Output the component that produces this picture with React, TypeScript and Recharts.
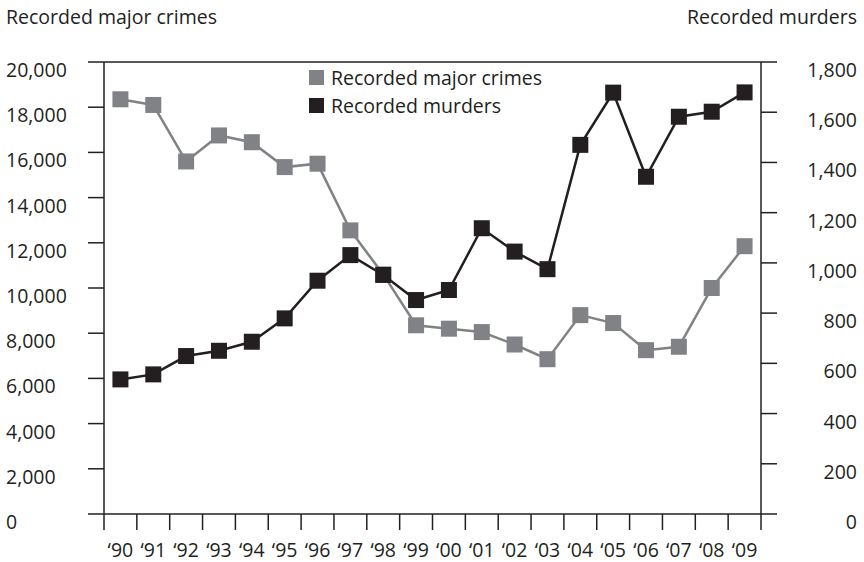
import React from 'react';
import { LineChart, Line, XAxis, YAxis, ReferenceLine, Legend } from 'recharts';

const YEARS = ['‘90', '‘91', '‘92', '‘93', '‘94', '‘95', '‘96', '‘97', '‘98', '‘99', '‘00', '‘01', '‘02', '‘03', '‘04', '‘05', '‘06', '‘07', '‘08', '‘09'];
const MAJOR_CRIMES = [18350, 18100, 15600, 16750, 16450, 15350, 15500, 12550, 10600, 8350, 8200, 8050, 7500, 6850, 8800, 8450, 7250, 7400, 10000, 11850];
const MURDERS = [536, 556, 629, 650, 686, 779, 929, 1031, 952, 852, 892, 1138, 1045, 975, 1470, 1678, 1343, 1582, 1602, 1679];
const LEFT_TICKS = [0, 2000, 4000, 6000, 8000, 10000, 12000, 14000, 16000, 18000, 20000];
const RIGHT_TICKS = [0, 200, 400, 600, 800, 1000, 1200, 1400, 1600, 1800];

const GREY = '#808285';
const BLACK = '#231f20';
const FONT = '"Open Sans", Lato, sans-serif';
const FS = 19.5;

const data = YEARS.map((year, i) => ({ year, crimes: MAJOR_CRIMES[i], murders: MURDERS[i] }));

const fmt = (v: number) => v.toLocaleString('en-US');

// square markers
const squareDot = (color: string) => (props: any) => {
  const { cx, cy, index } = props;
  if (cx == null || cy == null) return null;
  return <rect key={`sq-${color}-${index}`} x={cx - 8} y={cy - 8} width={16} height={16} fill={color} />;
};

const XTick = (props: any) => {
  const { x, y, payload, index, visibleTicksCount } = props;
  const off = payload && payload.offset ? payload.offset : 16.4;
  const top = y - 16;
  return (
    <g>
      <line x1={x - off} x2={x - off} y1={top} y2={y} stroke={BLACK} strokeWidth={1.5} />
      {index === visibleTicksCount - 1 && (
        <line x1={x + off} x2={x + off} y1={top} y2={y} stroke={BLACK} strokeWidth={1.5} />
      )}
      <text x={x} y={y + 27} textAnchor="middle" fontSize={FS} fontFamily={FONT} fill={BLACK}>
        {payload.value}
      </text>
    </g>
  );
};

const LeftTick = (props: any) => {
  const { x, y, payload } = props;
  return (
    <text x={x - 82} y={y + 15} textAnchor="start" fontSize={FS} fontFamily={FONT} fill={BLACK}>
      {fmt(payload.value)}
    </text>
  );
};

const RightTick = (props: any) => {
  const { x, y, payload } = props;
  return (
    <text x={x + 80} y={y + 15} textAnchor="end" fontSize={FS} fontFamily={FONT} fill={BLACK}>
      {fmt(payload.value)}
    </text>
  );
};

const LegendBox = (props: any) => {
  const { payload } = props;
  return (
    <div style={{ fontFamily: FONT, fontSize: FS, color: BLACK }}>
      {(payload || []).map((p: any) => (
        <div key={p.value} style={{ display: 'flex', alignItems: 'center', height: 28 }}>
          <span style={{ width: 15, height: 15, background: p.color, display: 'inline-block', marginRight: 7 }} />
          <span>{p.value}</span>
        </div>
      ))}
    </div>
  );
};

export default function App() {
  return (
    <div style={{ position: 'absolute', left: 0, top: 0, width: 864, height: 562, background: '#fff' }}>
      <LineChart width={864} height={562} data={data} margin={{ top: 62, right: 8, bottom: 0, left: 8 }}>
        <XAxis
          dataKey="year"
          scale="band"
          interval={0}
          height={48}
          tickSize={16}
          tickMargin={0}
          tickLine={false}
          axisLine={{ stroke: BLACK, strokeWidth: 1.5 }}
          tick={<XTick />}
        />
        <YAxis
          yAxisId="left"
          domain={[0, 20000]}
          ticks={LEFT_TICKS}
          width={96}
          tickSize={16}
          tickMargin={0}
          tickLine={{ stroke: BLACK, strokeWidth: 1.5 }}
          axisLine={{ stroke: BLACK, strokeWidth: 1.5 }}
          tick={<LeftTick />}
          label={{
            content: () => (
              <text x={6} y={24} fontSize={FS} fontFamily={FONT} fill={BLACK}>Recorded major crimes</text>
            ),
          }}
        />
        <YAxis
          yAxisId="right"
          orientation="right"
          domain={[0, 1800]}
          ticks={RIGHT_TICKS}
          width={95}
          tickSize={16}
          tickMargin={0}
          tickLine={{ stroke: BLACK, strokeWidth: 1.5 }}
          axisLine={{ stroke: BLACK, strokeWidth: 1.5 }}
          tick={<RightTick />}
          label={{
            content: () => (
              <text x={857} y={24} textAnchor="end" fontSize={FS} fontFamily={FONT} fill={BLACK}>Recorded murders</text>
            ),
          }}
        />
        <ReferenceLine yAxisId="left" y={20000} stroke={BLACK} strokeWidth={1.5} />
        <Legend
          layout="vertical"
          align="center"
          verticalAlign="middle"
          content={<LegendBox />}
          wrapperStyle={{ top: 63, left: 309, width: 280 }}
        />
        <Line
          yAxisId="left"
          dataKey="crimes"
          name="Recorded major crimes"
          stroke={GREY}
          strokeWidth={2.5}
          dot={squareDot(GREY)}
          activeDot={false}
          isAnimationActive={false}
        />
        <Line
          yAxisId="right"
          dataKey="murders"
          name="Recorded murders"
          stroke={BLACK}
          strokeWidth={2.5}
          dot={squareDot(BLACK)}
          activeDot={false}
          isAnimationActive={false}
        />
      </LineChart>
    </div>
  );
}
